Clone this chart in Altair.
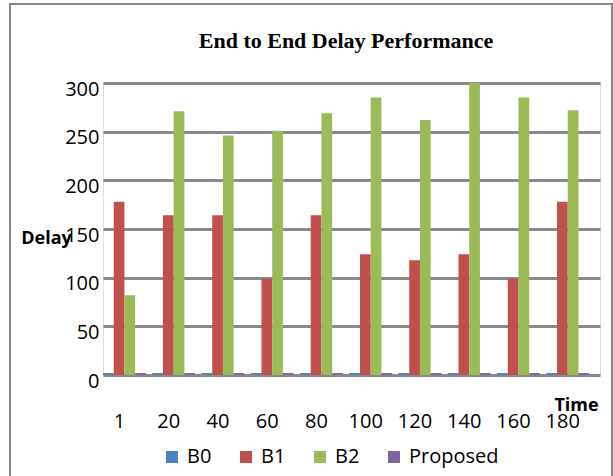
import altair as alt
import pandas as pd

title_text = "End to End Delay Performance"
times = ["1", "20", "40", "60", "80", "100", "120", "140", "160", "180"]
b0 = [2, 2, 2, 2, 2, 2, 2, 2, 2, 2]
b1 = [178, 164, 164, 99, 164, 124, 118, 124, 99, 178]
b2 = [82, 271, 246, 251, 269, 285, 262, 300, 285, 272]
proposed = [2, 2, 2, 2, 2, 2, 2, 2, 2, 2]
series = ["B0", "B1", "B2", "Proposed"]
colors = ["#4F81BD", "#C0504D", "#9BBB59", "#8064A2"]
y_ticks = [0, 50, 100, 150, 200, 250, 300]

rows = []
for name, vals in zip(series, [b0, b1, b2, proposed]):
    for t, v in zip(times, vals):
        rows.append({"Time": t, "Series": name, "Delay": v})
df = pd.DataFrame(rows)

FONT = "Open Sans"

bars = alt.Chart(df).mark_bar().encode(
    x=alt.X("Time:N", sort=times,
            scale=alt.Scale(paddingInner=0.13, paddingOuter=0.11, align=0),
            axis=alt.Axis(title="Time", labelAngle=0, labelFontSize=20, labelFont=FONT,
                          labelColor="#000", labelPadding=36, labelOffset=-5,
                          ticks=False, domain=False, grid=False,
                          titleFont=FONT, titleFontSize=18, titleFontWeight="bold",
                          titleColor="#000", titleX=473, titleY=30,
                          titleAlign="center", titleBaseline="middle")),
    xOffset=alt.XOffset("Series:N", sort=series, scale=alt.Scale(paddingInner=0)),
    y=alt.Y("Delay:Q", scale=alt.Scale(domain=[0, 300], nice=False),
            axis=alt.Axis(title="Delay", values=y_ticks, labelFontSize=20, labelFont=FONT,
                          labelColor="#000", labelPadding=4, labelOffset=6,
                          ticks=False, domain=False, grid=True, gridColor="#8a8a8a",
                          gridWidth=3, titleAngle=0, titleFont=FONT, titleFontSize=18,
                          titleFontWeight="bold", titleColor="#000", titleX=-57,
                          titleY=155, titleAlign="center", titleBaseline="middle")),
    color=alt.Color("Series:N", sort=series,
                    scale=alt.Scale(domain=series, range=colors),
                    legend=alt.Legend(title=None, orient="none", direction="horizontal",
                                      legendX=59, legendY=364, symbolType="square",
                                      symbolSize=144, symbolStrokeWidth=0,
                                      labelFontSize=20, labelFont=FONT, labelColor="#000",
                                      labelOffset=5, columnPadding=24)),
)

single = alt.Data(values=[{"a": 1}])

frame = alt.Chart(single).mark_rect(
    fill="transparent", stroke="#888888", strokeWidth=2
).encode(
    x=alt.value(-93), x2=alt.value(509), y=alt.value(-79), y2=alt.value(400)
)

title = alt.Chart(single).mark_text(
    font="Liberation Serif", fontSize=22, fontWeight="bold", color="#000",
    align="center", baseline="middle"
).encode(
    text=alt.value(title_text), x=alt.value(243), y=alt.value(-42)
)

chart = alt.layer(bars, frame, title).properties(
    width=497, height=292,
    padding={"left": 103, "top": 83, "right": 13, "bottom": 101},
    autosize=alt.AutoSizeParams(type="none"),
).configure_view(stroke=None).configure(background="white")

chart.save("out.html", embed_options={"renderer": "svg", "actions": False})
